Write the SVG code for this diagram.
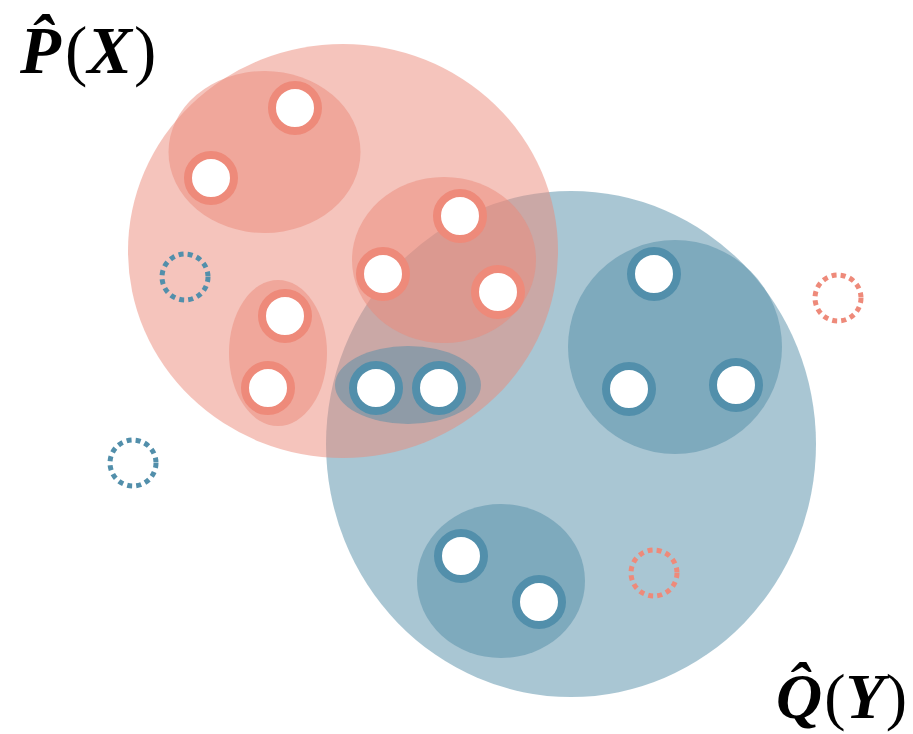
<svg xmlns="http://www.w3.org/2000/svg" width="913" height="734" viewBox="0 0 913 734">
<style>
.rbig{fill:#eb8979;opacity:.5}
.rsub{fill:#eb8979;opacity:.5}
.bbig{fill:#538da7;opacity:.5}
.bsub{fill:#538da7;opacity:.5}
.rn{fill:#fff;stroke:#ee8a7a;stroke-width:8}
.bn{fill:#fff;stroke:#528fab;stroke-width:8}
.rd{fill:none;stroke:#ee8a7a;stroke-width:5;stroke-dasharray:5 4.2}
.bd{fill:none;stroke:#528fab;stroke-width:5;stroke-dasharray:5 4.2}
.lab{font-family:"Liberation Serif",serif;font-size:64px;fill:#000}
.bi{font-weight:bold;font-style:italic}
</style>
<g id="Q-set">
<ellipse class="bbig" cx="571" cy="444" rx="245" ry="253"/>
<ellipse class="bsub" cx="675" cy="347" rx="107" ry="107"/>
<ellipse class="bsub" cx="501" cy="581" rx="84" ry="77"/>
</g>
<g id="P-set">
<ellipse class="rbig" cx="343" cy="251" rx="215" ry="207"/>
<ellipse class="rsub" cx="264.5" cy="152" rx="96" ry="81"/>
<ellipse class="rsub" cx="444" cy="260" rx="92" ry="83"/>
<ellipse class="rsub" cx="278" cy="353" rx="49" ry="73"/>
</g>
<g id="shared-cluster">
<ellipse class="bsub" cx="408" cy="385" rx="73" ry="39"/>
</g>
<g id="connectors"></g>
<g id="red-nodes">
<circle class="rn" cx="295" cy="108" r="23"/>
<circle class="rn" cx="211" cy="178" r="23"/>
<circle class="rn" cx="460" cy="216" r="23"/>
<circle class="rn" cx="383" cy="274" r="23"/>
<circle class="rn" cx="498" cy="292" r="23"/>
<circle class="rn" cx="285" cy="316" r="23"/>
<circle class="rn" cx="268" cy="388" r="23"/>
</g>
<g id="blue-nodes">
<circle class="bn" cx="376" cy="388" r="23"/>
<circle class="bn" cx="439" cy="388" r="23"/>
<circle class="bn" cx="654" cy="274" r="23"/>
<circle class="bn" cx="629" cy="389" r="23"/>
<circle class="bn" cx="736" cy="385" r="23"/>
<circle class="bn" cx="461" cy="556" r="23"/>
<circle class="bn" cx="539" cy="602" r="23"/>
</g>
<g id="dotted">
<circle class="bd" cx="185" cy="277" r="23"/>
<circle class="bd" cx="133" cy="463" r="23"/>
<circle class="rd" cx="838" cy="298" r="23"/>
<circle class="rd" cx="654" cy="573" r="23"/>
</g>
<g id="label-P">
<text class="lab" x="20" y="73" style="font-size:67px"><tspan class="bi">P̂</tspan><tspan dx="4">(</tspan><tspan class="bi">X</tspan><tspan dx="2">)</tspan></text>
</g>
<g id="label-Q">
<text class="lab" x="776" y="718"><tspan class="bi">Q̂</tspan><tspan dx="2">(</tspan><tspan class="bi">Y</tspan><tspan dx="1">)</tspan></text>
</g>
</svg>
